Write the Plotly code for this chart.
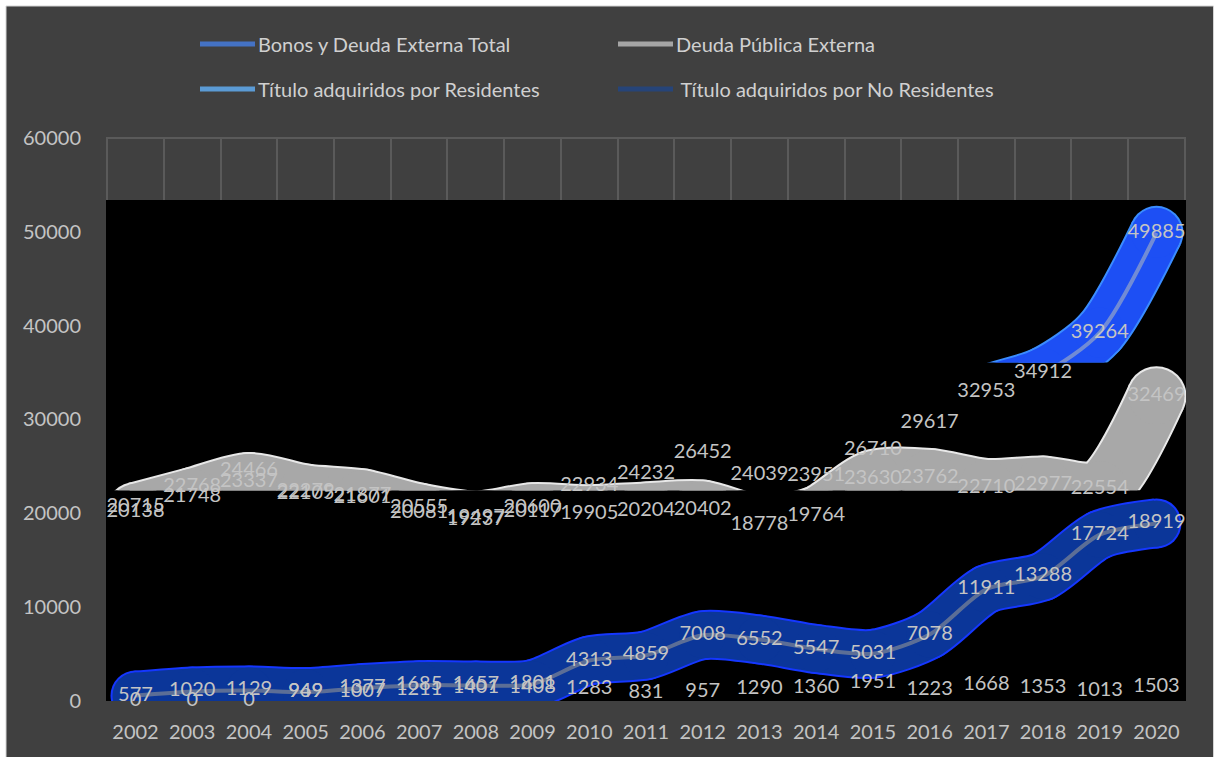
import plotly.graph_objects as go

# ---------------- data ----------------
YEARS = ["2002", "2003", "2004", "2005", "2006", "2007", "2008", "2009", "2010", "2011",
         "2012", "2013", "2014", "2015", "2016", "2017", "2018", "2019", "2020"]

BONOS_TOTAL = [20715, 22768, 24466, 22279, 21877, 20555, 19497, 20600, 22934, 24232,
               26452, 24039, 23951, 26710, 29617, 32953, 34912, 39264, 49885]
DEUDA_PUBLICA = [20138, 21748, 23337, 22105, 21601, 20081, 19237, 20117, 19905, 20204,
                 20402, 18778, 19764, 23630, 23762, 22710, 22977, 22554, 32469]
RESIDENTES = [0, 0, 0, 969, 1007, 1211, 1401, 1408, 1283, 831,
              957, 1290, 1360, 1951, 1223, 1668, 1353, 1013, 1503]
NO_RESIDENTES = [577, 1020, 1129, 949, 1377, 1685, 1657, 1801, 4313, 4859,
                 7008, 6552, 5547, 5031, 7078, 11911, 13288, 17724, 18919]

SERIES_NAMES = ["Bonos y Deuda Externa Total", "Deuda Pública Externa",
                "Título adquiridos por Residentes", " Título adquiridos por No Residentes"]
Y_TICKS = [0, 10000, 20000, 30000, 40000, 50000, 60000]

# ---------------- style ----------------
FONT = "Lato, 'Open Sans', sans-serif"
TXT = "#c4c4c4"
GRID = "#5a5a5a"
LEGEND_COLORS = ["#4472C4", "#A5A5A5", "#5B9BD5", "#264478"]
YTOP = 60100          # a hair above 60000 so the top gridline shows
BLACK_TOP = 53400
TOTAL_CLIP = 36060
GRAY_CLIP = 22450
XR = [-0.52, 18.52]

W, H = 1215, 757
ML, MR, MT, MB = 106, 29, 137, 56
PW, PH = W - ML - MR, H - MT - MB


def px_x(px):
    return (px - ML) / PW


def px_y(py):
    return (H - MB - py) / PH


fig = go.Figure()


def band(y, xa, ya, outer, inner, center, width):
    fig.add_trace(go.Scatter(
        x=YEARS, y=y, xaxis=xa, yaxis=ya, mode="lines+markers",
        line=dict(color=outer, width=width + 4, shape="spline", smoothing=0.8),
        marker=dict(color=outer, size=width + 4, line=dict(width=0)),
        showlegend=False, hoverinfo="skip"))
    fig.add_trace(go.Scatter(
        x=YEARS, y=y, xaxis=xa, yaxis=ya, mode="lines+markers",
        line=dict(color=inner, width=width, shape="spline", smoothing=0.8),
        marker=dict(color=inner, size=width, line=dict(width=0)),
        showlegend=False, hoverinfo="skip"))
    if center:
        fig.add_trace(go.Scatter(
            x=YEARS, y=y, xaxis=xa, yaxis=ya, mode="lines",
            line=dict(color=center, width=4, shape="spline", smoothing=0.8),
            showlegend=False, hoverinfo="skip"))


# main subplot: No Residentes band
band(NO_RESIDENTES, "x", "y", "#1537ff", "#0b3699", "rgba(120,130,150,0.75)", 46)
# Bonos total band clipped (subplot 2)
band(BONOS_TOTAL, "x2", "y2", "#3a8cff", "#1d4ff4", "rgba(150,165,200,0.7)", 50)
# Deuda pública band clipped (subplot 3)
band(DEUDA_PUBLICA, "x3", "y3", "#e8e8e8", "#a8a8a8", None, 56)

# data labels on top (subplot 4, full range)
for name, vals in zip(SERIES_NAMES, [BONOS_TOTAL, DEUDA_PUBLICA, RESIDENTES, NO_RESIDENTES]):
    fig.add_trace(go.Scatter(
        x=YEARS, y=vals, xaxis="x4", yaxis="y4", mode="text", name=name.strip(),
        text=[str(v) for v in vals], textposition="middle center",
        textfont=dict(family=FONT, size=20, color=TXT),
        cliponaxis=False, showlegend=False, hoverinfo="skip"))

# ---------------- layout ----------------
shapes = [
    # chart frame
    dict(type="rect", xref="paper", yref="paper", layer="below",
         x0=px_x(6), x1=px_x(1213.5), y0=px_y(770), y1=px_y(6),
         fillcolor="#404040", line=dict(color="#d4d4d4", width=1)),
    # black plotting region
    dict(type="rect", xref="x", yref="y", layer="between",
         x0=XR[0], x1=XR[1] + 0.05, y0=0, y1=BLACK_TOP, fillcolor="#000000",
         line=dict(width=0)),
    # top border of the plotting region (60000 gridline)
    dict(type="line", xref="x", yref="y", layer="between",
         x0=XR[0], x1=XR[1], y0=Y_TICKS[-1], y1=Y_TICKS[-1],
         line=dict(color=GRID, width=2)),
]

annotations = []
legend_pos = [(200, 44), (618, 44), (200, 89), (618, 89)]
for (lx, ly), name, col in zip(legend_pos, SERIES_NAMES, LEGEND_COLORS):
    shapes.append(dict(type="line", xref="paper", yref="paper",
                       x0=px_x(lx), x1=px_x(lx + 55), y0=px_y(ly), y1=px_y(ly),
                       line=dict(color=col, width=5)))
    annotations.append(dict(xref="paper", yref="paper", x=px_x(lx + 56), y=px_y(ly),
                            xanchor="left", yanchor="middle", showarrow=False, text=name,
                            font=dict(family=FONT, size=20, color="#d0d0d0")))

hidden_x = dict(type="category", range=XR, visible=False, showgrid=False)
fig.update_layout(
    width=W, height=H,
    margin=dict(l=ML, r=MR, t=MT, b=MB, pad=0),
    paper_bgcolor="#ffffff",
    plot_bgcolor="rgba(0,0,0,0)",
    showlegend=False,
    font=dict(family=FONT, size=20, color=TXT),
    xaxis=dict(type="category", range=XR, tickson="boundaries",
               showgrid=True, gridcolor=GRID, gridwidth=1.5,
               ticks="", ticklabelstandoff=17,
               showline=False, zeroline=False,
               tickfont=dict(family=FONT, size=20, color=TXT)),
    yaxis=dict(range=[0, YTOP], tickvals=Y_TICKS, tickformat="d", showgrid=True,
               gridcolor=GRID, gridwidth=1.5, zeroline=False, showline=False,
               ticks="outside", ticklen=20, tickcolor="rgba(0,0,0,0)",
               tickfont=dict(family=FONT, size=20, color=TXT)),
    xaxis2=dict(anchor="y2", **hidden_x),
    yaxis2=dict(anchor="x2", domain=[TOTAL_CLIP / YTOP, 1], range=[TOTAL_CLIP, YTOP],
                visible=False, showgrid=False),
    xaxis3=dict(anchor="y3", **hidden_x),
    yaxis3=dict(anchor="x3", domain=[GRAY_CLIP / YTOP, 1], range=[GRAY_CLIP, YTOP],
                visible=False, showgrid=False),
    xaxis4=dict(anchor="y4", **hidden_x),
    yaxis4=dict(anchor="x4", domain=[0, 1], range=[0, YTOP],
                visible=False, showgrid=False),
    shapes=shapes,
    annotations=annotations,
)

fig.write_html("out.html", config={"displayModeBar": False},
               post_script="document.body.style.margin='0px';")
